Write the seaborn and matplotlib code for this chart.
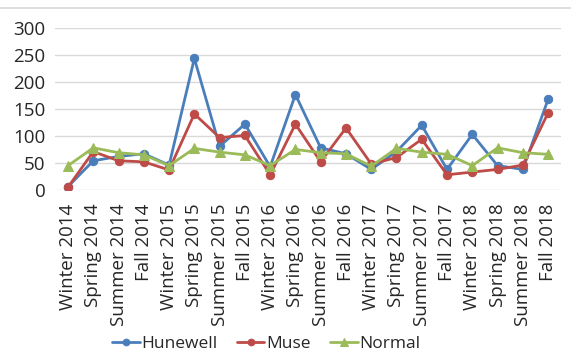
import pandas as pd
import matplotlib.pyplot as plt
import seaborn as sns

seasons = ['Winter 2014', 'Spring 2014', 'Summer 2014', 'Fall 2014',
           'Winter 2015', 'Spring 2015', 'Summer 2015', 'Fall 2015',
           'Winter 2016', 'Spring 2016', 'Summer 2016', 'Fall 2016',
           'Winter 2017', 'Spring 2017', 'Summer 2017', 'Fall 2017',
           'Winter 2018', 'Spring 2018', 'Summer 2018', 'Fall 2018']
hunewell = [6, 54, 62, 67, 46, 244, 81, 122, 43, 177, 78, 67,
            38, 71, 120, 38, 103, 45, 38, 168]
muse = [5, 71, 54, 52, 37, 141, 97, 101, 28, 122, 52, 115,
        48, 60, 94, 28, 33, 38, 46, 143]
normal = [45, 78, 69, 65, 45, 77, 70, 65, 45, 75, 69, 67,
          44, 77, 70, 66, 45, 78, 69, 66]

series_names = ['Hunewell', 'Muse', 'Normal']
colors = ['#4A7EBB', '#BE4B48', '#9BBB59']
markers = ['o', 'o', '^']

df = pd.DataFrame({'season': seasons, 'Hunewell': hunewell,
                   'Muse': muse, 'Normal': normal})
long = df.melt(id_vars='season', var_name='series', value_name='value')
long['season'] = pd.Categorical(long['season'], categories=seasons, ordered=True)

sns.set_style('white')
plt.rcParams['font.family'] = ['Open Sans', 'DejaVu Sans']

fig, ax = plt.subplots(figsize=(5.71, 3.63), dpi=100)
for name, color, mk in zip(series_names, colors, markers):
    sub = long[long['series'] == name]
    sns.lineplot(data=sub, x='season', y='value', ax=ax, color=color,
                 marker=mk, markersize=7.5 if mk == '^' else 6,
                 markeredgecolor=color, linewidth=2, label=name, sort=False)

ax.set_ylim(0, 300)
ax.set_yticks(range(0, 301, 50))
ax.set_xlim(-0.5, len(seasons) - 0.5)
ax.yaxis.grid(True, color='#D9D9D9', linewidth=1)
ax.set_axisbelow(True)
for s in ax.spines.values():
    s.set_visible(False)
ax.tick_params(axis='both', length=0, labelsize=13.5, colors='#262626')
ax.tick_params(axis='x', rotation=90, pad=10)
ax.tick_params(axis='y', pad=7)
ax.set_xlabel('')
ax.set_ylabel('')

ax.legend(loc='center', bbox_to_anchor=(0.466, 0.052), bbox_transform=fig.transFigure,
          ncol=3, frameon=False, fontsize=12.5, handlelength=1.6, handletextpad=0.1,
          columnspacing=1.1, markerscale=0.8)

fig.subplots_adjust(left=0.097, right=0.982, top=0.922, bottom=0.477)
fig.add_artist(plt.Line2D([0, 1], [0.978, 0.978], color='#D9D9D9', linewidth=1.2))
fig.savefig('out.png', dpi=100)
